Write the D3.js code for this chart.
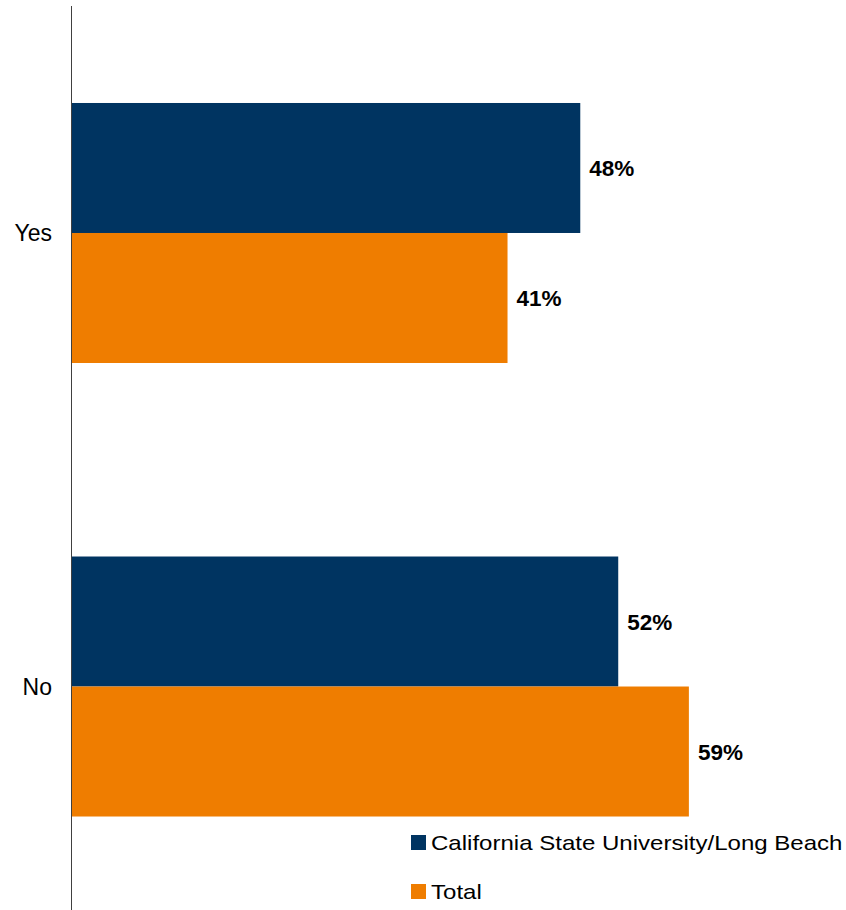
<!DOCTYPE html>
<html>
<head>
<meta charset="utf-8">
<script src="https://cdn.jsdelivr.net/npm/d3@7"></script>
<style>
  html, body { margin: 0; padding: 0; background: #fff; }
  svg { display: block; }
  text { font-family: "Liberation Sans", Arial, sans-serif; }
</style>
</head>
<body>
<svg id="chart" width="846" height="910"></svg>
<script>
const categories = ["Yes", "No"];
const seriesNames = ["California State University/Long Beach", "Total"];
const csuValues = [48.3, 51.9];
const totalValues = [41.4, 58.6];
const seriesColors = ["#003461", "#EF7D00"];

const svg = d3.select("#chart");

const x = d3.scaleLinear().domain([0, 70]).range([71, 71 + 70 * 10.544]);
const y = d3.scaleBand().domain(categories).range([6.25, 913.25])
  .paddingInner(0.4267).paddingOuter(0.2133);
const inner = d3.scaleBand().domain(seriesNames).range([0, y.bandwidth()]);

const data = categories.map((c, i) => ({
  cat: c,
  vals: [
    { s: seriesNames[0], v: csuValues[i], color: seriesColors[0] },
    { s: seriesNames[1], v: totalValues[i], color: seriesColors[1] }
  ]
}));

const groups = svg.selectAll("g.grp").data(data).enter().append("g")
  .attr("class", "grp")
  .attr("transform", d => `translate(0,${y(d.cat)})`);

groups.selectAll("rect").data(d => d.vals).enter().append("rect")
  .attr("x", x(0))
  .attr("y", d => inner(d.s))
  .attr("width", d => x(d.v) - x(0))
  .attr("height", inner.bandwidth())
  .attr("fill", d => d.color);

const fmt = d3.format(".0f");
groups.selectAll("text.val").data(d => d.vals).enter().append("text")
  .attr("class", "val")
  .attr("x", d => x(d.v) + 9)
  .attr("y", d => inner(d.s) + inner.bandwidth() / 2)
  .attr("dy", "0.36em")
  .attr("font-size", 22.5)
  .attr("font-weight", "bold")
  .attr("fill", "#000")
  .text(d => fmt(d.v) + "%");

// Y axis
const yAxis = d3.axisLeft(y).tickSize(0).tickPadding(19);
const ga = svg.append("g").attr("transform", `translate(${x(0)},0)`).call(yAxis);
ga.select(".domain").remove();
ga.selectAll(".tick text")
  .attr("font-family", "Liberation Sans, Arial, sans-serif")
  .attr("font-size", 23)
  .attr("fill", "#000")
  .attr("dy", "0.36em");
svg.append("line")
  .attr("x1", x(0)).attr("x2", x(0))
  .attr("y1", 6).attr("y2", 910)
  .attr("stroke", "#404040").attr("stroke-width", 1)
  .attr("shape-rendering", "crispEdges");

// Legend
const legend = svg.append("g").attr("transform", "translate(411,835)");
const li = legend.selectAll("g").data(seriesNames).enter().append("g")
  .attr("transform", (d, i) => `translate(0,${i * 49})`);
li.append("rect").attr("width", 15).attr("height", 15)
  .attr("fill", (d, i) => seriesColors[i]);
li.append("text")
  .attr("transform", "translate(20,7.5) scale(1.145,1)")
  .attr("dy", "0.36em")
  .attr("font-size", 21)
  .attr("fill", "#000")
  .text(d => d);
</script>
</body>
</html>
